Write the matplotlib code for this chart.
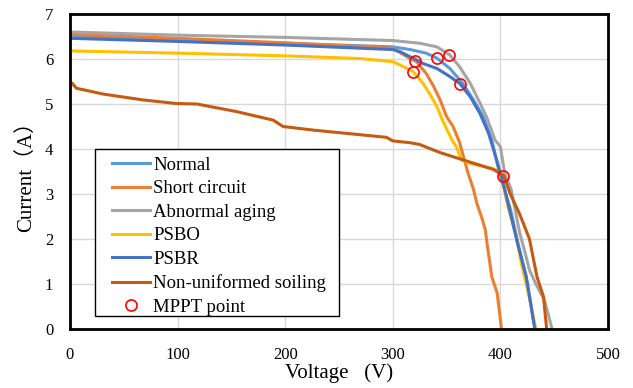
import matplotlib.pyplot as plt
from matplotlib.patches import Rectangle

# I-V curves (voltage V, current A)
normal_v = [0, 100, 200, 300, 316, 331, 341, 353, 365, 375, 384, 392, 397, 404, 410, 417, 424, 428, 432]
normal_i = [6.50, 6.42, 6.35, 6.27, 6.21, 6.13, 6.02, 5.79, 5.46, 5.09, 4.72, 4.20, 3.68, 3.09, 2.60, 1.83, 1.16, 0.60, 0]

short_v = [0, 100, 200, 300, 316, 322, 331, 338, 344, 350, 356, 362, 366, 370, 375, 378, 383, 386, 388, 392, 397, 401]
short_i = [6.55, 6.46, 6.36, 6.24, 6.01, 5.94, 5.68, 5.39, 5.09, 4.72, 4.50, 4.15, 3.80, 3.46, 3.10, 2.80, 2.45, 2.20, 1.83, 1.16, 0.80, 0]

aging_v = [0, 100, 200, 300, 325, 341, 353, 362, 372, 381, 387, 395, 400, 404, 410, 418, 423, 427, 434, 441, 448]
aging_i = [6.60, 6.53, 6.48, 6.41, 6.35, 6.27, 6.09, 5.83, 5.46, 5.02, 4.72, 4.20, 4.05, 3.46, 3.10, 2.13, 1.69, 1.31, 0.95, 0.64, 0]

psbo_v = [0, 100, 200, 270, 300, 310, 319, 328, 334, 341, 347, 355, 359, 364, 372, 392, 400, 407, 414, 420, 426, 433]
psbo_i = [6.18, 6.13, 6.07, 6.01, 5.94, 5.83, 5.72, 5.46, 5.24, 4.94, 4.60, 4.20, 4.05, 3.76, 3.68, 3.57, 3.50, 2.72, 2.13, 1.40, 0.80, 0]

psbr_v = [0, 100, 200, 300, 307, 316, 319, 328, 341, 353, 362.5, 372, 381, 389, 396, 404, 410, 416, 424, 432]
psbr_i = [6.46, 6.39, 6.31, 6.21, 6.16, 6.05, 6.02, 5.90, 5.79, 5.61, 5.45, 5.16, 4.79, 4.35, 3.80, 3.10, 2.50, 1.90, 1.16, 0]

soil_v = [0, 2, 6, 31, 68, 99, 118, 155, 189, 198, 226, 294, 300, 316, 325, 344, 365, 381, 393, 401, 403, 409, 418, 427, 434, 440, 443]
soil_i = [5.40, 5.46, 5.35, 5.22, 5.09, 5.01, 5.00, 4.83, 4.64, 4.50, 4.42, 4.26, 4.18, 4.14, 4.10, 3.92, 3.76, 3.64, 3.55, 3.44, 3.41, 3.01, 2.55, 2.00, 1.16, 0.72, 0]

mppt_v = [321, 319, 341, 352.5, 362.5, 402.5]
mppt_i = [5.96, 5.72, 6.02, 6.09, 5.44, 3.41]

plt.rcParams['font.family'] = ['Liberation Serif', 'Noto Sans CJK SC']

fig = plt.figure(figsize=(6.33, 3.88), dpi=100)
ax = fig.add_axes([70 / 633, 1 - 329 / 388, 538 / 633, 315 / 388])

lw = 2.2
ax.plot(normal_v, normal_i, color='#5B9BD5', lw=lw, label='Normal')
ax.plot(short_v, short_i, color='#ED7D31', lw=lw, label='Short circuit')
ax.plot(aging_v, aging_i, color='#A5A5A5', lw=lw, label='Abnormal aging')
ax.plot(psbo_v, psbo_i, color='#FFC000', lw=lw, label='PSBO')
ax.plot(psbr_v, psbr_i, color='#4472C4', lw=lw, label='PSBR')
ax.plot(soil_v, soil_i, color='#C55A11', lw=lw, label='Non-uniformed soiling')
ax.plot(mppt_v, mppt_i, linestyle='none', marker='o', ms=8, mfc='none', mec='red', mew=1.2, label='MPPT point')

ax.set_xlim(0, 500)
ax.set_ylim(0, 7)
ax.set_xticks(range(0, 501, 100))
ax.set_yticks(range(0, 8))
ax.grid(True, color='#D9D9D9', lw=1)
ax.set_axisbelow(True)
for s in ax.spines.values():
    s.set_linewidth(2)
    s.set_color('black')
ax.tick_params(length=0, labelsize=12)
ax.tick_params(axis='x', pad=13)
ax.tick_params(axis='y', pad=12)

ax.set_xlabel('Voltage   (V)', fontsize=15, labelpad=0)
ax.set_ylabel('Current（A）', fontsize=15, labelpad=6)

# legend box drawn separately so the entries can sit where the reference has them
box = Rectangle((0.0465, 0.041), 0.4535, 0.530, transform=ax.transAxes,
                facecolor='white', edgecolor='black', lw=1, zorder=4)
ax.add_patch(box)
leg = ax.legend(loc='upper left', bbox_to_anchor=(0.078, 0.547), borderaxespad=0,
                fontsize=13.5, frameon=False, handlelength=2.03, handletextpad=0.16,
                labelspacing=0.34, borderpad=0)
leg.set_zorder(5)

fig.savefig('out.png', dpi=100)
